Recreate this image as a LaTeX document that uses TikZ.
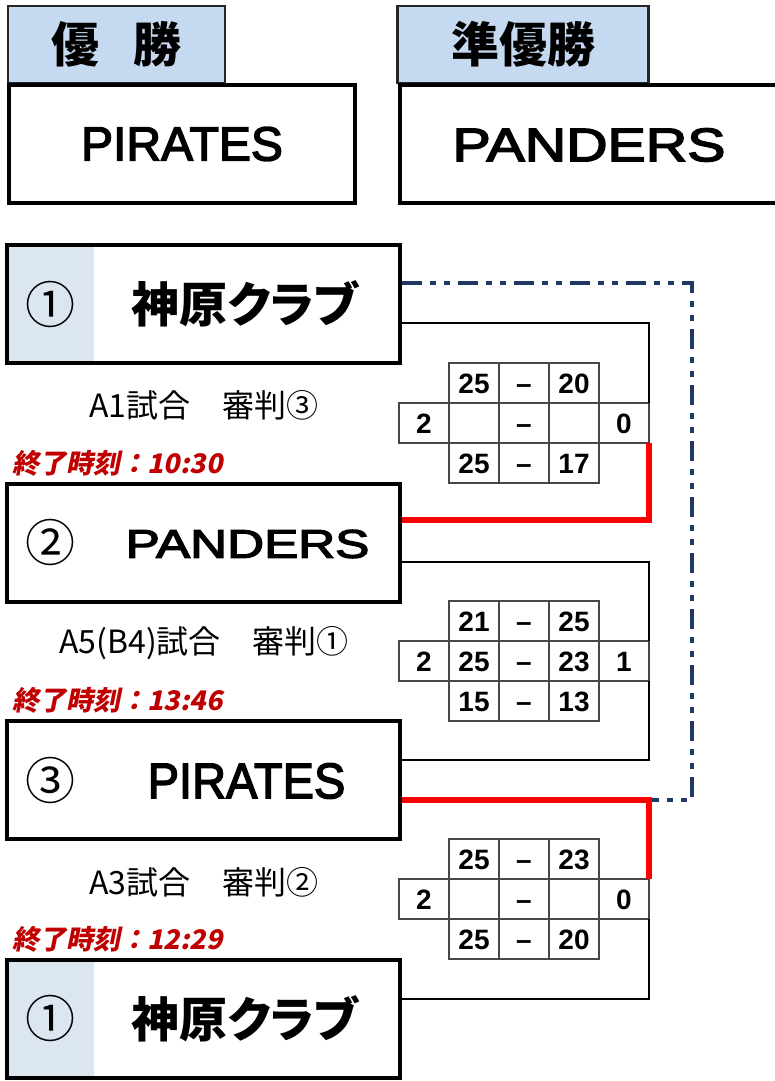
\documentclass[tikz,border=0pt]{standalone}
\usepackage{fontspec}
\setmainfont{Noto Sans CJK JP}
\newfontfamily\latinfont{Liberation Sans}
\newfontfamily\namefont[FakeBold=3]{Liberation Sans}
\newfontfamily\kanafont[RawFeature=+palt]{Noto Sans CJK JP}
\newfontfamily\timefont[FakeSlant=0.2]{Noto Sans CJK JP}
\usepackage{tikz}
\usetikzlibrary{calc,positioning}
\definecolor{hdrblue}{RGB}{197,217,241}
\definecolor{seedblue}{RGB}{220,230,241}
\definecolor{mynavy}{RGB}{31,56,100}
\definecolor{timered}{RGB}{192,0,0}
\definecolor{cellgray}{RGB}{70,70,70}

\tikzset{
  hdrbox/.style={draw=black!85, line width=2.2pt, fill=hdrblue,
    minimum height=77, inner sep=0,
    font=\fontsize{48}{48}\selectfont\bfseries},
  winbox/.style={draw, line width=4.5pt, minimum height=118, inner sep=0},
  teambox/.style={draw, line width=4pt, minimum width=393,
    minimum height=118, inner sep=0},
  seedcell/.style={minimum width=87, minimum height=118, inner sep=0,
    font=\fontsize{50}{50}\selectfont},
  teamname/.style={inner sep=0, font=\fontsize{48}{48}\selectfont\bfseries},
  cell/.style={draw=cellgray, line width=1.2pt, minimum width=50,
    minimum height=40, inner sep=0, outer sep=0,
    text height=20pt, text depth=0pt,
    font=\latinfont\fontsize{28}{28}\selectfont\bfseries},
  matchlbl/.style={inner sep=0, font=\fontsize{32}{32}\selectfont},
  timelbl/.style={inner sep=0, anchor=west, text=timered,
    font=\timefont\fontsize{27}{27}\selectfont\bfseries},
  bracket/.style={line width=2.5pt},
  winline/.style={red, line width=6pt},
  finalline/.style={mynavy, line width=4pt,
    dash pattern=on 20pt off 8pt on 6pt off 8pt on 6pt off 8pt}
}

\begin{document}
\begin{tikzpicture}[x=1pt, y=-1pt]
  \useasboundingbox (0,0) rectangle (775,1081);
  \clip (0,0) rectangle (775,1081);

  % Winner and runner-up
  \node[hdrbox, minimum width=217] (h1) at (116.5,44.5) {優\hspace{0.7em}勝};
  \node[hdrbox, minimum width=251] (h2) at (523,44.5) {準優勝};
  \node[winbox, minimum width=346, font=\namefont\fontsize{48}{48}\selectfont]
    (w1) at (182,144) {PIRATES};
  \node[winbox, minimum width=400] (w2) at (600,144) {};
  \node[teamname, font=\namefont\fontsize{47}{47}\selectfont]
    (w2n) at (589,145) {\scalebox{1.22}[1]{PANDERS}};

  % Teams
  \node[seedcell, fill=seedblue] (n1) at (50.5,304) {①};
  \node[teambox] (t1) at (203.5,304) {};
  \node[teamname] (nm1) at (245,304) {\kanafont 神原クラブ};

  \node[seedcell] (n2) at (50.5,542.5) {②};
  \node[teambox] (t2) at (203.5,542.5) {};
  \node[teamname, font=\namefont\fontsize{40}{40}\selectfont]
    (nm2) at (247.5,544) {\scalebox{1.28}[1]{PANDERS}};

  \node[seedcell] (n3) at (50.5,780) {③};
  \node[teambox] (t3) at (203.5,780) {};
  \node[teamname, font=\namefont\fontsize{50}{50}\selectfont]
    (nm3) at (246.5,781) {\scalebox{0.94}[1]{PIRATES}};

  \node[seedcell, fill=seedblue] (n4) at (50.5,1018.5) {①};
  \node[teambox] (t4) at (203.5,1018.5) {};
  \node[teamname] (nm4) at (245,1018.5) {\kanafont 神原クラブ};

  % Match labels and end times
  \node[matchlbl] (l1) at (204,405) {A1試合　審判③};
  \node[timelbl] (e1) at (12,463) {終了時刻：10:30};
  \node[matchlbl] (l2) at (204,643) {A5(B4)試合　審判①};
  \node[timelbl] (e2) at (12,700) {終了時刻：13:46};
  \node[matchlbl] (l3) at (204,882) {A3試合　審判②};
  \node[timelbl] (e3) at (12,939) {終了時刻：12:29};

  % Score tables
  \foreach \m/\y/\ta/\tb/\ma/\mb/\ba/\bb/\wl/\wr in
    {1/423/25/20/{}/{}/25/17/2/0,
     2/661/21/25/25/23/15/13/2/1,
     3/899/25/23/{}/{}/25/20/2/0}{
    \node[cell] (s\m-a2) at (474,\y-40) {\ta};
    \node[cell] (s\m-a3) at (524,\y-40) {–};
    \node[cell] (s\m-a4) at (574,\y-40) {\tb};
    \node[cell] (s\m-b1) at (424,\y) {\wl};
    \node[cell] (s\m-b2) at (474,\y) {\ma};
    \node[cell] (s\m-b3) at (524,\y) {–};
    \node[cell] (s\m-b4) at (574,\y) {\mb};
    \node[cell] (s\m-b5) at (624,\y) {\wr};
    \node[cell] (s\m-c2) at (474,\y+40) {\ba};
    \node[cell] (s\m-c3) at (524,\y+40) {–};
    \node[cell] (s\m-c4) at (574,\y+40) {\bb};
  }

  % Final (dash-dot)
  \coordinate (dd) at (692,800);
  \draw[finalline] ($(t1.east)+(0,-21)$) -| (dd) -- (dd -| s3-b5.east);

  % Brackets
  \draw[bracket] ($(t1.east)+(0,19)$) -| (s1-b5.north east);
  \draw[bracket] ($(t2.east)+(0,19.5)$) -| (s2-b5.north east);
  \draw[bracket] ($(t3.east)+(0,-20)$) -| (s2-b5.south east);
  \draw[bracket] ($(t4.east)+(0,-19.5)$) -| (s3-b5.south east);
  \draw[winline] ($(t2.east)+(0,-22.5)$) -| (s1-b5.south east);
  \draw[winline] ($(t3.east)+(0,20)$) -| (s3-b5.north east);
\end{tikzpicture}
\end{document}
